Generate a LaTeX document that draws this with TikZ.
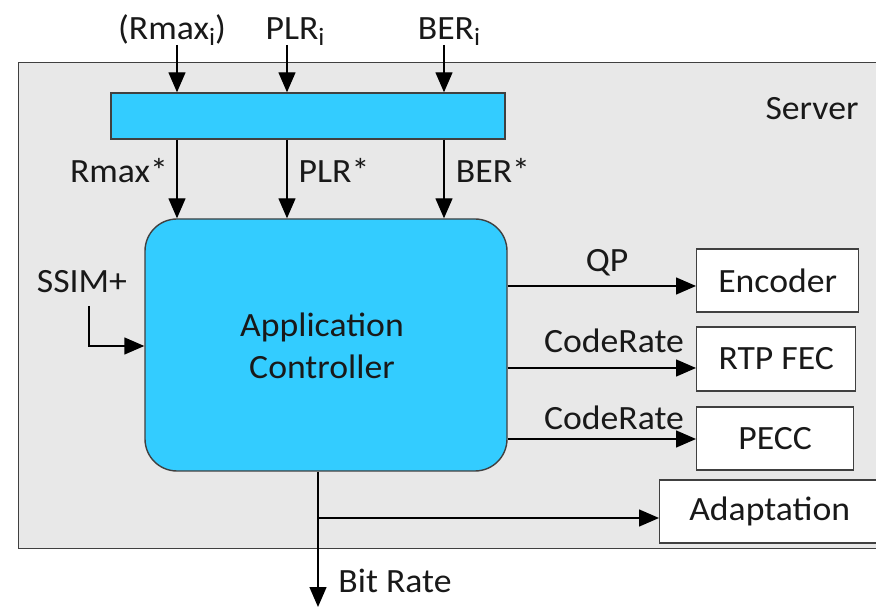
\documentclass[tikz,border=0pt]{standalone}
\usepackage{fontspec}
\setmainfont{Carlito}[FakeStretch=1.05]
\usetikzlibrary{arrows.meta}
\definecolor{ctrlblue}{RGB}{51,204,255}
\definecolor{srvgrey}{RGB}{232,232,232}
\definecolor{edgegrey}{RGB}{64,64,64}
\definecolor{txt}{RGB}{25,25,25}
\newcommand{\subi}{\raisebox{-6pt}{\fontsize{25}{25}\selectfont i}}
\begin{document}
\begin{tikzpicture}[x=1pt,y=-1pt,
  lbl/.style={font=\fontsize{34}{42}\selectfont, text=txt, inner sep=0pt},
  conn/.style={line width=1.4pt, draw=black, -{Triangle[length=20pt,width=17pt]}},
  outbox/.style={draw=edgegrey, line width=1.4pt, fill=white, minimum height=63pt, inner sep=0pt, font=\fontsize{34}{42}\selectfont, text=txt},
]
\useasboundingbox (0,0) rectangle (876,609);
% server
\node[draw=edgegrey, fill=srvgrey, line width=1.4pt, anchor=north west, minimum width=872pt, minimum height=486pt, inner sep=0pt] (server) at (18,62) {};
\node[lbl, anchor=base] (srvlbl) at (812,120) {Server};
% aggregation bar
\node[draw=edgegrey, fill=ctrlblue, line width=1.4pt, minimum width=394pt, minimum height=46pt, inner sep=0pt] (bar) at (308,116) {};
% application controller
\node[draw=edgegrey, fill=ctrlblue, line width=1.4pt, rounded corners=32pt, minimum width=362pt, minimum height=252pt, inner sep=0pt] (ac) at (326,345) {};
\node[lbl, align=center] (actext) at (322,346) {Application\\Controller};
% output boxes
\node[outbox, anchor=west, minimum width=162pt] (enc) at (696,280.5) {Encoder};
\node[outbox, anchor=west, minimum width=159pt, minimum height=64pt] (rtp) at (696,359) {RTP FEC};
\node[outbox, anchor=west, minimum width=157pt] (pecc) at (696,438.5) {PECC};
\node[outbox, anchor=west, minimum width=220pt] (adapt) at (659,511.5) {Adaptation};
% top inputs
\coordinate (inR) at (177,45);
\coordinate (inP) at (287,45);
\coordinate (inB) at (444,45);
\node[lbl, anchor=base] (lR) at (172,40) {(Rmax\subi)};
\node[lbl, anchor=base] (lP) at (295,40) {PLR\subi};
\node[lbl, anchor=base] (lB) at (449,40) {BER\subi};
\draw[conn] (inR) -- (inR |- bar.north);
\draw[conn] (inP) -- (inP |- bar.north);
\draw[conn] (inB) -- (inB |- bar.north);
% bar to controller
\draw[conn] (inR |- bar.south) -- (inR |- ac.north);
\draw[conn] (inP |- bar.south) -- (inP |- ac.north);
\draw[conn] (inB |- bar.south) -- (inB |- ac.north);
\node[lbl, anchor=base] (lRs) at (119,183) {Rmax*};
\node[lbl, anchor=base] (lPs) at (334,183) {PLR*};
\node[lbl, anchor=base] (lBs) at (493,183) {BER*};
% SSIM+
\node[lbl, anchor=base] (lS) at (82,293) {SSIM+};
\coordinate (sS) at (89,306);
\coordinate (cS) at (89,346);
\draw[conn] (sS) -- (cS) -- (cS -| ac.west);
% outputs
\coordinate (yQ) at (0,286);
\coordinate (yR) at (0,368);
\coordinate (yP) at (0,439);
\draw[conn] (ac.east |- yQ) -- (enc.west |- yQ);
\draw[conn] (ac.east |- yR) -- (rtp.west |- yR);
\draw[conn] (ac.east |- yP) -- (pecc.west |- yP);
\node[lbl, anchor=base] (lQ) at (607,272) {QP};
\node[lbl, anchor=base] (lC1) at (614,353) {CodeRate};
\node[lbl, anchor=base] (lC2) at (614,430) {CodeRate};
% bit rate
\coordinate (bx) at (318,0);
\coordinate (split) at (318,518);
\coordinate (bend) at (318,607);
\draw[conn] (bx |- ac.south) -- (bend);
\draw[conn] (split) -- (adapt.west |- split);
\node[lbl, anchor=base] (lBR) at (395,592) {Bit Rate};
\end{tikzpicture}
\end{document}
